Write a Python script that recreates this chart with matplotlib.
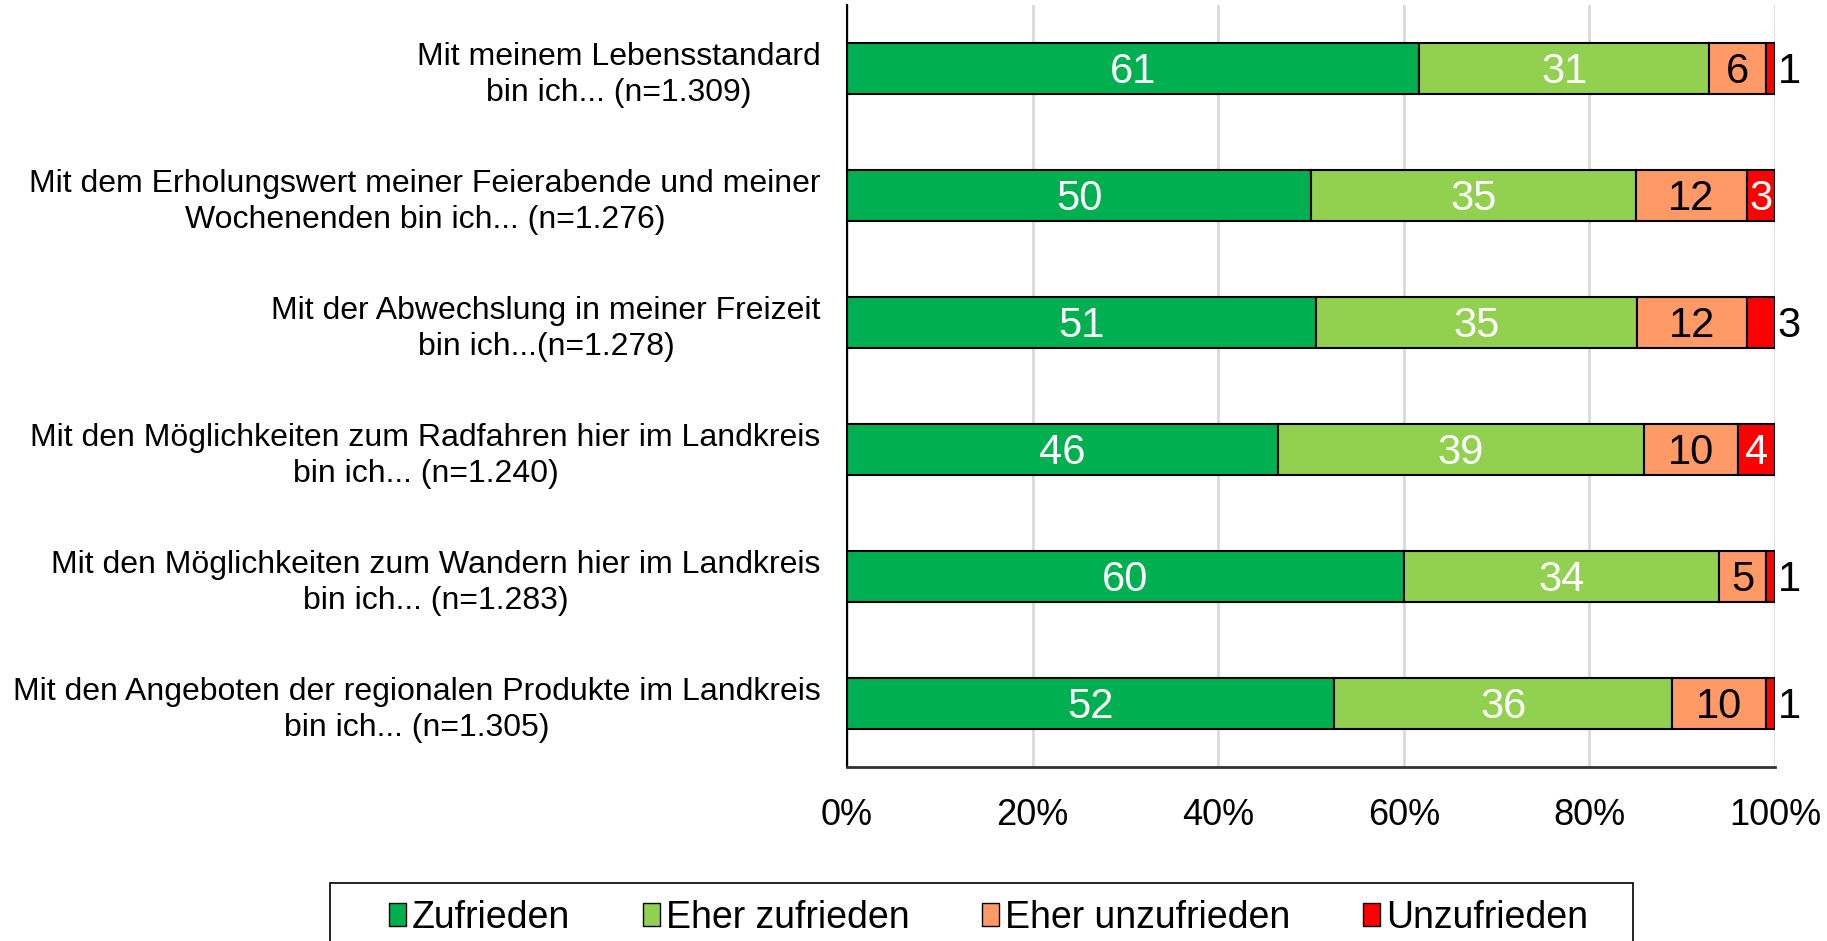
import numpy as np
import matplotlib
matplotlib.use('Agg')
import matplotlib.pyplot as plt
import matplotlib.patches as patches

plt.rcParams['font.family'] = ['Liberation Sans', 'DejaVu Sans']

# Daten
CATEGORIES = [
    "Mit meinem Lebensstandard\nbin ich... (n=1.309)",
    "Mit dem Erholungswert meiner Feierabende und meiner\nWochenenden bin ich... (n=1.276)",
    "Mit der Abwechslung in meiner Freizeit\nbin ich...(n=1.278)",
    "Mit den Möglichkeiten zum Radfahren hier im Landkreis\nbin ich... (n=1.240)",
    "Mit den Möglichkeiten zum Wandern hier im Landkreis\nbin ich... (n=1.283)",
    "Mit den Angeboten der regionalen Produkte im Landkreis\nbin ich... (n=1.305)",
]
SERIES = ["Zufrieden", "Eher zufrieden", "Eher unzufrieden", "Unzufrieden"]
ZUFRIEDEN = [61, 50, 51, 46, 60, 52]
EHER_ZUFRIEDEN = [31, 35, 35, 39, 34, 36]
EHER_UNZUFRIEDEN = [6, 12, 12, 10, 5, 10]
UNZUFRIEDEN = [1, 3, 3, 4, 1, 1]
TICKS = [0, 20, 40, 60, 80, 100]
TICK_LABELS = ["0%", "20%", "40%", "60%", "80%", "100%"]

# Stil
COLORS = ['#00B050', '#92D050', '#FF9966', '#FF0000']
TEXT_COLORS = ['white', 'white', 'black', 'white']
# rote Werte, die rechts neben dem Balken stehen
RED_OUTSIDE = [True, False, True, False, True, True]
BAR_HEIGHT = 0.4
LABEL_DY = 0.03


def draw_bars(ax, values):
    y = np.arange(len(CATEGORIES))
    totals = values.sum(axis=0)
    shares = values / totals * 100
    left = np.zeros(len(CATEGORIES))
    for i, name in enumerate(SERIES):
        ax.barh(y, shares[i], left=left, height=BAR_HEIGHT, color=COLORS[i],
                edgecolor='black', linewidth=1.5, label=name, zorder=2)
        for j in range(len(CATEGORIES)):
            if i == 3 and RED_OUTSIDE[j]:
                ax.text(100.3, y[j] + LABEL_DY, str(values[i, j]), ha='left', va='center',
                        fontsize=30, color='black', zorder=3)
            else:
                ax.text(left[j] + shares[i, j] / 2, y[j] + LABEL_DY, str(values[i, j]),
                        ha='center', va='center', fontsize=30,
                        color=TEXT_COLORS[i], zorder=3)
        left += shares[i]


def draw_legend(fig):
    x0, x1 = 330 / 1827, 1633 / 1827
    y0 = 1 - 883 / 941
    frame = patches.Rectangle((x0, y0 - 0.2), x1 - x0, 0.2, transform=fig.transFigure,
                              facecolor='white', edgecolor='black', linewidth=1.2)
    fig.patches.append(frame)
    handles = [patches.Rectangle((0, 0), 1, 1, facecolor=c, edgecolor='black', linewidth=1)
               for c in COLORS]
    fig.legend(handles, SERIES, loc='center',
               bbox_to_anchor=((x0 + x1) / 2 + 7 / 1827, 1 - 918 / 941),
               ncol=4, frameon=False, fontsize=27, handlelength=0.45, handleheight=0.55,
               handletextpad=0.15, columnspacing=1.95, borderpad=0)


def main():
    fig = plt.figure(figsize=(18.27, 9.41), dpi=100)
    ax = fig.add_axes([847 / 1827, 1 - 767 / 941, (1775 - 847) / 1827, 762 / 941])

    values = np.array([ZUFRIEDEN, EHER_ZUFRIEDEN, EHER_UNZUFRIEDEN, UNZUFRIEDEN])
    draw_bars(ax, values)

    ax.set_xlim(0, 100)
    ax.set_ylim(len(CATEGORIES) - 0.5, -0.5)
    ax.set_xticks(TICKS)
    ax.set_xticklabels(TICK_LABELS, fontsize=26)
    ax.set_yticks(np.arange(len(CATEGORIES)))
    ax.set_yticklabels(CATEGORIES, fontsize=23)
    for t in ax.get_yticklabels():
        t.set_multialignment('center')
        t.set_linespacing(1.25)
    ax.tick_params(axis='both', length=0)
    ax.tick_params(axis='y', pad=19)
    ax.tick_params(axis='x', pad=22)
    ax.grid(axis='x', color='#d9d9d9', linewidth=2, zorder=0)
    ax.set_axisbelow(True)
    for s in ['top', 'right']:
        ax.spines[s].set_visible(False)
    ax.spines['left'].set_linewidth(1.5)
    ax.spines['bottom'].set_linewidth(2)
    ax.spines['bottom'].set_color('#333333')

    draw_legend(fig)
    fig.savefig('out.png', dpi=100)


if __name__ == '__main__':
    main()
